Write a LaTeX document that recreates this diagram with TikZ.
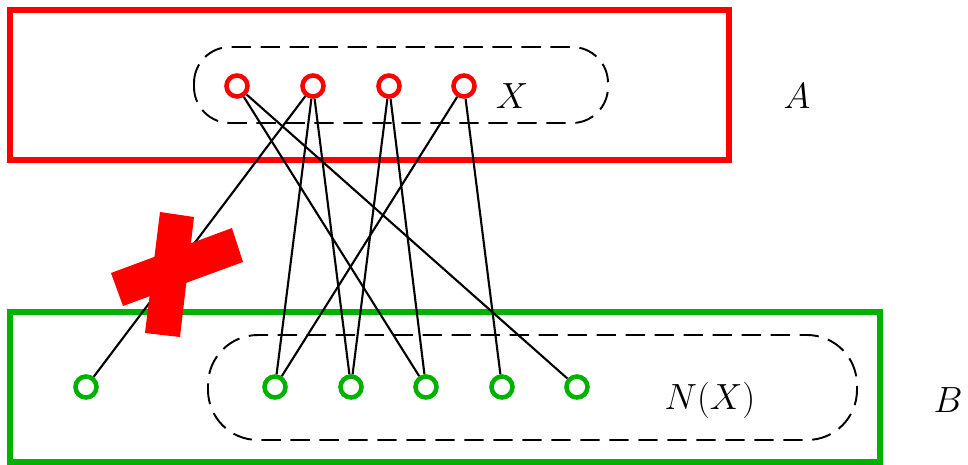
\documentclass[tikz,border=0pt]{standalone}
\begin{document}
\begin{tikzpicture}[x=0.02cm,y=-0.02cm,
  rv/.style={circle,draw=red,line width=2.6pt,minimum size=21*0.02cm,inner sep=0pt},
  gv/.style={circle,draw=green!70!black,line width=2.6pt,minimum size=21*0.02cm,inner sep=0pt},
  edge/.style={line width=1.2pt,black},
  grp/.style={draw,dash pattern=on 11pt off 5.5pt,line width=1.1pt},
  lbl/.style={font=\fontsize{22}{26}\selectfont}]
\useasboundingbox (0,0) rectangle (968,464);
\draw[red,line width=2.9pt] (10,10) rectangle (729,160);
\draw[green!70!black,line width=2.9pt] (10,312) rectangle (880,462);
\draw[grp,rounded corners=36*0.02cm] (194,47) rectangle (608,123);
\draw[grp,rounded corners=50*0.02cm] (208,335) rectangle (857,440);
\node[rv] (r1) at (237,86) {};
\node[rv] (r2) at (313,86) {};
\node[rv] (r3) at (389,86) {};
\node[rv] (r4) at (464,86) {};
\node[gv] (g0) at (86,387) {};
\node[gv] (g1) at (275,387) {};
\node[gv] (g2) at (351,387) {};
\node[gv] (g3) at (426,387) {};
\node[gv] (g4) at (502,387) {};
\node[gv] (g5) at (577,387) {};
\draw[edge] (r1) -- (g3);
\draw[edge] (r1) -- (g5);
\draw[edge] (r2) -- (g0);
\draw[edge] (r2) -- (g1);
\draw[edge] (r2) -- (g2);
\draw[edge] (r3) -- (g2);
\draw[edge] (r3) -- (g3);
\draw[edge] (r4) -- (g1);
\draw[edge] (r4) -- (g4);
\node[lbl] (lx) at (512,96) {$X$};
\node[lbl] (la) at (797,96) {$A$};
\node[lbl] (lnx) at (710,400) {$N(X)$};
\node[lbl] (lb) at (948,400) {$B$};
\fill[red] (160,212) -- (194,217) -- (180,337) -- (145,333) -- cycle;
\fill[red] (111,273) -- (232,228) -- (243,262) -- (123,306) -- cycle;
\end{tikzpicture}
\end{document}
